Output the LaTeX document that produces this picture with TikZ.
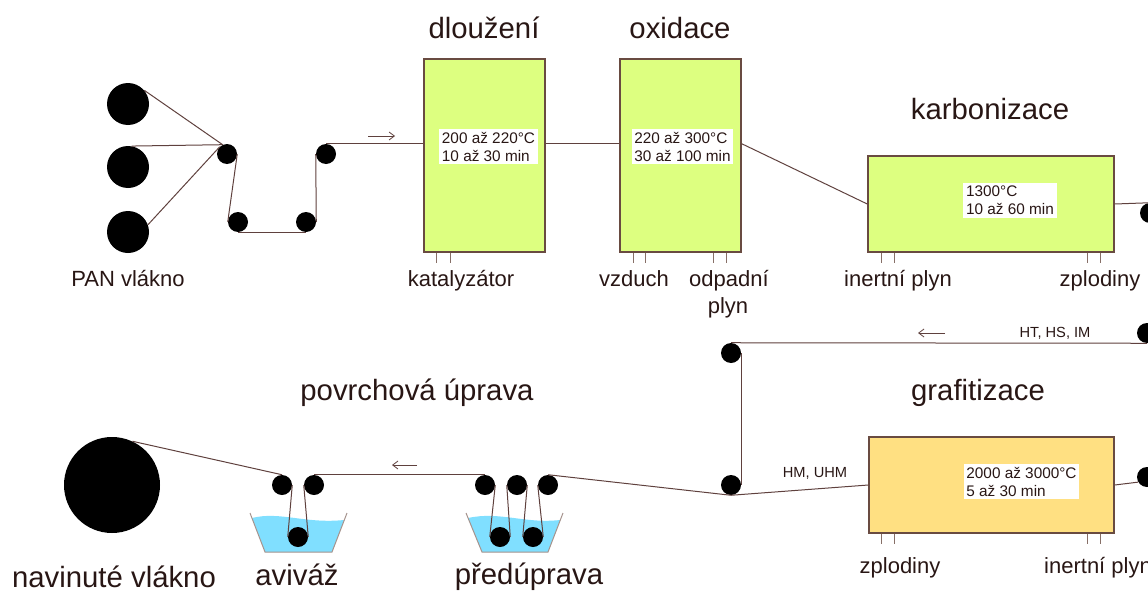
\documentclass[tikz,border=0pt]{standalone}
\usepackage{fontspec}
\setmainfont{Liberation Sans}
\usetikzlibrary{arrows.meta}
\definecolor{txt}{RGB}{40,22,20}
\definecolor{thread}{RGB}{95,65,62}
\definecolor{frame}{RGB}{105,75,65}
\definecolor{lime}{RGB}{221,255,128}
\definecolor{amber}{RGB}{255,224,130}
\definecolor{water}{RGB}{128,223,255}
\begin{document}
\begin{tikzpicture}[x=0.75pt,y=-0.75pt,
 roller/.style={circle,fill=black,inner sep=0pt,minimum size=15pt},
 spool/.style={circle,fill=black,inner sep=0pt,minimum size=31.5pt},
 oven/.style={draw=frame,line width=1.1pt,inner sep=0pt},
 info/.style={fill=white,inner xsep=2pt,inner ysep=2.5pt,align=left,text=txt,font=\fontsize{11.5}{13.5}\selectfont},
 lbl/.style={text=txt,font=\fontsize{16.5}{20}\selectfont,inner sep=0pt,anchor=base},
 ttl/.style={text=txt,font=\fontsize{22}{26}\selectfont,inner sep=0pt,anchor=base},
 small/.style={text=txt,font=\fontsize{11}{13}\selectfont,inner sep=0pt,anchor=base},
 thr/.style={draw=thread,line width=0.75pt},
 tick/.style={draw=frame!80,line width=0.75pt},
 flow/.style={draw=thread,line width=0.6pt,-{Straight Barb[length=4pt,width=6pt]}},
 bath/.style={draw=frame!60,line width=0.75pt}
]
\useasboundingbox (0,0) rectangle (1148,592);

% baths (water + walls)
\fill[water] (252,518) .. controls (280,511) and (305,524) .. (344,520) -- (332,552) -- (265,552) -- cycle;
\draw[bath] (250,513) -- (265,552) -- (332,552) -- (347,513);
\fill[water] (468,518) .. controls (500,511) and (525,524) .. (560,520) -- (548,552) -- (482,552) -- cycle;
\draw[bath] (466,513) -- (482,552) -- (548,552) -- (563,513);

% ovens
\node[oven,fill=lime,minimum width=121*0.75pt,minimum height=193*0.75pt] (b1) at (484.5,155.5) {};
\node[oven,fill=lime,minimum width=121*0.75pt,minimum height=193*0.75pt] (b2) at (680.5,155.5) {};
\node[oven,fill=lime,minimum width=246*0.75pt,minimum height=96*0.75pt] (b3) at (991,204) {};
\node[oven,fill=amber,minimum width=245*0.75pt,minimum height=96*0.75pt] (b4) at (991.5,485) {};

\node[info] (i1) at (488.5,146.5) {200 až 220°C\\10 až 30 min};
\node[info] (i2) at (682.5,146.5) {220 až 300°C\\30 až 100 min};
\node[info] (i3) at (1010,200.5) {1300°C\\10 až 60 min};
\node[info] (i4) at (1021.5,481.5) {2000 až 3000°C\\5 až 30 min};

% ticks
\draw[tick] (b1.south west) ++(13,0) -- ++(0,10);
\draw[tick] (b1.south west) ++(27,0) -- ++(0,10);
\draw[tick] (b2.south west) ++(14,0) -- ++(0,10);
\draw[tick] (b2.south west) ++(26,0) -- ++(0,10);
\draw[tick] (b2.south west) ++(94,0) -- ++(0,10);
\draw[tick] (b2.south west) ++(107,0) -- ++(0,10);
\draw[tick] (b3.south west) ++(14,0) -- ++(0,10);
\draw[tick] (b3.south west) ++(27,0) -- ++(0,10);
\draw[tick] (b3.south west) ++(220,0) -- ++(0,10);
\draw[tick] (b3.south west) ++(233,0) -- ++(0,10);
\draw[tick] (b4.south west) ++(13,0) -- ++(0,10);
\draw[tick] (b4.south west) ++(26,0) -- ++(0,10);
\draw[tick] (b4.south west) ++(219,0) -- ++(0,10);
\draw[tick] (b4.south west) ++(232,0) -- ++(0,10);

% spools and rollers
\node[spool] (s1) at (128,104) {};
\node[spool] (s2) at (128,167) {};
\node[spool] (s3) at (128,232) {};
\node[roller] (r1) at (227,154) {};
\node[roller] (r2) at (238,222) {};
\node[roller] (r3) at (306,222) {};
\node[roller] (r4) at (326,154) {};
\node[roller] (r5) at (1150,213) {};
\node[roller] (r6) at (1147,333) {};
\node[roller] (r7) at (731,353) {};
\node[roller] (r8) at (731,485) {};
\node[roller] (r9) at (1147,477) {};
\node[roller] (p1) at (485,485) {};
\node[roller] (p2) at (517,485) {};
\node[roller] (p3) at (548,485) {};
\node[roller] (q1) at (500,537) {};
\node[roller] (q2) at (533,537) {};
\node[roller] (a1) at (282,485) {};
\node[roller] (a2) at (314,485) {};
\node[roller] (q3) at (298,537) {};
\node[circle,fill=black,inner sep=0pt,minimum size=72pt] (big) at (112,485) {};

% threads
\draw[thr] (s1.40) -- (r1.115);
\draw[thr] (s2.80) -- (r1.115);
\draw[thr] (s3.20) -- (r1.135);
\draw[thr] (r1.east) -- (r2.west);
\draw[thr] (r2.south) -- (r3.south);
\draw[thr] (r3.east) -- (r4.west);
\draw[thr] (r4.north) -- (r4.north -| b1.west);
\draw[thr] (r4.north -| b1.east) -- (r4.north -| b2.west);
\draw[thr] (r4.north -| b2.east) -- (b3.west);
\draw[thr] (b3.east) -- (r5.north);
\draw[thr] (r6.south) -- (r7.north);
\draw[thr] (r7.east) -- (r8.east);
\draw[thr] (b4.east) -- (r9.210);
\draw[thr] (r8.south) -- (b4.west);
\draw[thr] (r8.south) -- (p3.north);
\draw[thr] (p3.west) -- (q2.east);
\draw[thr] (q2.west) -- (p2.east);
\draw[thr] (p2.west) -- (q1.east);
\draw[thr] (q1.west) -- (p1.east);
\draw[thr] (p1.north) -- (a2.north);
\draw[thr] (a2.west) -- (q3.east);
\draw[thr] (q3.west) -- (a1.east);
\draw[thr] (a1.north) -- (big.65);

% direction arrows
\coordinate (f1s) at (368,136); \coordinate (f1e) at (395,136);
\coordinate (f2s) at (945,333); \coordinate (f2e) at (918,333);
\coordinate (f3s) at (417,465); \coordinate (f3e) at (392,465);
\draw[flow] (f1s) -- (f1e);
\draw[flow] (f2s) -- (f2e);
\draw[flow] (f3s) -- (f3e);

% titles
\node[ttl] (t1) at (484,39) {dloužení};
\node[ttl] (t2) at (680,39) {oxidace};
\node[ttl] (t3) at (990,119) {karbonizace};
\node[ttl] (t4) at (978,400) {grafitizace};
\node[ttl] (t5) at (417,400) {povrchová úprava};

% labels
\node[lbl] (l1) at (128,286) {PAN vlákno};
\node[lbl] (l2) at (461,286) {katalyzátor};
\node[lbl] (l3) at (634,286) {vzduch};
\node[lbl] (l4) at (729,286) {odpadní};
\node[lbl] (l5) at (728,313) {plyn};
\node[lbl] (l6) at (898,286) {inertní plyn};
\node[lbl] (l7) at (1100,286) {zplodiny};
\node[lbl] (l8) at (900,573) {zplodiny};
\node[lbl] (l9) at (1098,573) {inertní plyn};
\node[ttl] (l10) at (114,587) {navinuté vlákno};
\node[ttl] (l11) at (297,585) {aviváž};
\node[ttl] (l12) at (529,584) {předúprava};
\node[small] (m1) at (1055,337) {HT, HS, IM};
\node[small] (m2) at (815,477) {HM, UHM};
\end{tikzpicture}
\end{document}
